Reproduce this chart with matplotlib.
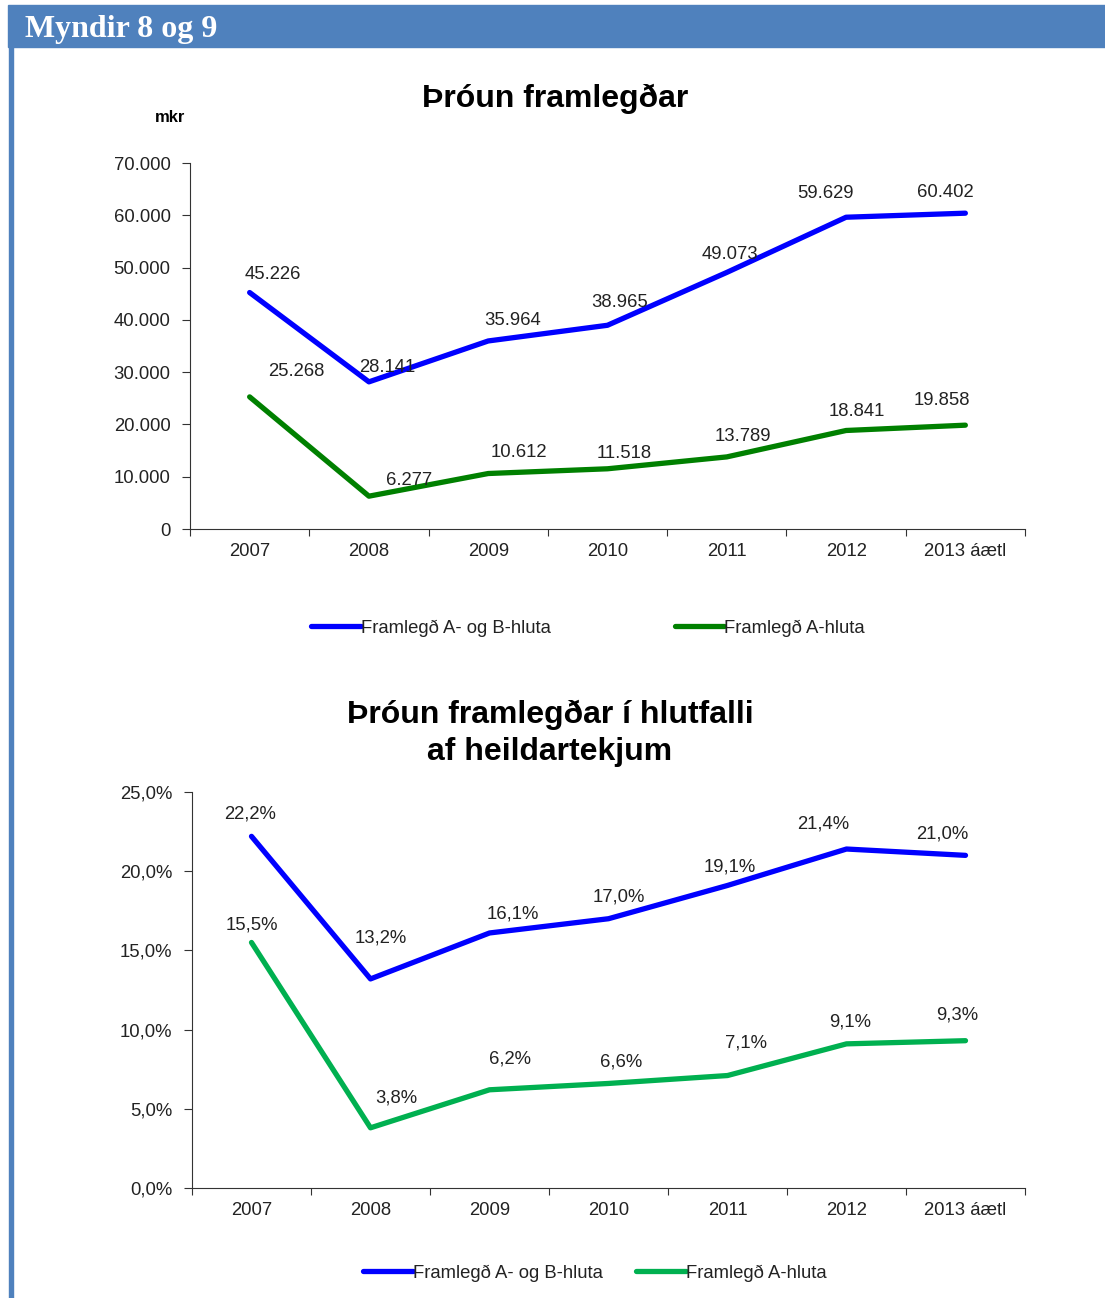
import numpy as np
import matplotlib.pyplot as plt
from matplotlib.lines import Line2D

years = ['2007', '2008', '2009', '2010', '2011', '2012', '2013 áætl']

# mynd 8 - framlegð, mkr
framl_ab = [45226, 28141, 35964, 38965, 49073, 59629, 60402]
framl_a = [25268, 6277, 10612, 11518, 13789, 18841, 19858]

# mynd 9 - framlegð í hlutfalli af heildartekjum, %
hlutf_ab = [22.2, 13.2, 16.1, 17.0, 19.1, 21.4, 21.0]
hlutf_a = [15.5, 3.8, 6.2, 6.6, 7.1, 9.1, 9.3]

series_names = ['Framlegð A- og B-hluta', 'Framlegð A-hluta']

W, H = 1105, 1298
FS = 13.3
fig = plt.figure(figsize=(W / 100, H / 100), dpi=100)
plt.rcParams['font.family'] = ['Liberation Sans', 'DejaVu Sans']

def px(x0, y0, x1, y1):
	return [x0 / W, 1 - y1 / H, (x1 - x0) / W, (y1 - y0) / H]

# header band + left border
fig.patches.append(plt.Rectangle((8 / W, 1 - 47 / H), 1 - 8 / W, 42 / H, transform=fig.transFigure, color='#4F81BD', zorder=0))
fig.patches.append(plt.Rectangle((9 / W, 0), 4 / W, 1 - 47 / H, transform=fig.transFigure, color='#4F81BD', zorder=0))
fig.text(25 / W, 1 - 30 / H, 'Myndir 8 og 9', family='Liberation Serif', fontweight='bold', fontsize=23, color='white', va='center', ha='left')

def thous(v):
	return f'{v:,}'.replace(',', '.')

def pct(v):
	return f'{v:.1f}%'.replace('.', ',')

def style_axes(ax, ymax, ystep, fmt):
	n = len(years)
	ax.set_xlim(-0.5, n - 0.5)
	ax.set_ylim(0, ymax)
	ax.set_yticks(np.arange(0, ymax + ystep / 2, ystep))
	ax.set_yticklabels([fmt(v) for v in np.arange(0, ymax + ystep / 2, ystep)])
	ax.set_xticks(np.arange(-0.5, n, 1.0))
	ax.set_xticklabels([])
	ax.set_xticks(np.arange(n), minor=True)
	ax.set_xticklabels(years, minor=True)
	ax.tick_params(axis='x', which='major', direction='out', length=5, color='#333333')
	ax.tick_params(axis='x', which='minor', length=0, pad=10, labelsize=FS, labelcolor='#222222')
	ax.tick_params(axis='y', direction='out', length=6, color='#333333', labelsize=FS, labelcolor='#222222', pad=8)
	for s in ['top', 'right']:
		ax.spines[s].set_visible(False)
	for s in ['left', 'bottom']:
		ax.spines[s].set_color('#333333')

def annotate(ax, vals, offs, fmt):
	for i, v in enumerate(vals):
		ax.annotate(fmt(v), (i, v), xytext=offs[i], textcoords='offset pixels', ha='center', va='center', fontsize=FS, color='#222222')

x = np.arange(len(years))

# ---- mynd 8
ax1 = fig.add_axes(px(190, 163, 1025, 529))
ax1.plot(x, framl_ab, color='#0000FF', lw=3.8, solid_capstyle='round', solid_joinstyle='round')
ax1.plot(x, framl_a, color='#008000', lw=3.8, solid_capstyle='round', solid_joinstyle='round')
style_axes(ax1, 70000, 10000, lambda v: thous(int(v)))
annotate(ax1, framl_ab, [(23, 18), (18, 14), (24, 20), (12, 23), (3, 18), (-21, 24), (-20, 21)], thous)
annotate(ax1, framl_a, [(47, 25), (40, 16), (31, 21), (17, 15), (16, 20), (11, 19), (-23, 25)], thous)
fig.text(170 / W, 1 - 118 / H, 'mkr', fontweight='bold', fontsize=12, ha='center', va='center')
fig.text(555 / W, 1 - 99 / H, 'Þróun framlegðar', fontweight='bold', fontsize=23, ha='center', va='center')
h1 = [Line2D([], [], color='#0000FF', lw=3.8, solid_capstyle='round'),
	Line2D([], [], color='#008000', lw=3.8, solid_capstyle='round')]
fig.legend(h1, series_names, loc='center', bbox_to_anchor=(588 / W, 1 - 628 / H), ncol=2, frameon=False,
	fontsize=FS, handlelength=2.7, handletextpad=0.0, columnspacing=6.7, labelcolor='#222222')

# ---- mynd 9
ax2 = fig.add_axes(px(192, 792, 1025, 1188))
ax2.plot(x, hlutf_ab, color='#0000FF', lw=3.8, solid_capstyle='round', solid_joinstyle='round')
ax2.plot(x, hlutf_a, color='#00B050', lw=3.8, solid_capstyle='round', solid_joinstyle='round')
style_axes(ax2, 25, 5, pct)
annotate(ax2, hlutf_ab, [(-1, 22), (10, 41), (23, 19), (10, 22), (2, 18), (-23, 25), (-23, 21)], pct)
annotate(ax2, hlutf_a, [(0, 17), (26, 30), (21, 31), (13, 21), (18, 33), (4, 22), (-8, 26)], pct)
fig.text(550 / W, 1 - 715 / H, 'Þróun framlegðar í hlutfalli', fontweight='bold', fontsize=23, ha='center', va='center')
fig.text(550 / W, 1 - 752 / H, 'af heildartekjum', fontweight='bold', fontsize=23, ha='center', va='center')
h2 = [Line2D([], [], color='#0000FF', lw=3.8, solid_capstyle='round'),
	Line2D([], [], color='#00B050', lw=3.8, solid_capstyle='round')]
fig.legend(h2, series_names, loc='center', bbox_to_anchor=(595 / W, 1 - 1273 / H), ncol=2, frameon=False,
	fontsize=FS, handlelength=2.7, handletextpad=0.0, columnspacing=1.8, labelcolor='#222222')

fig.savefig('out.png', dpi=100)
